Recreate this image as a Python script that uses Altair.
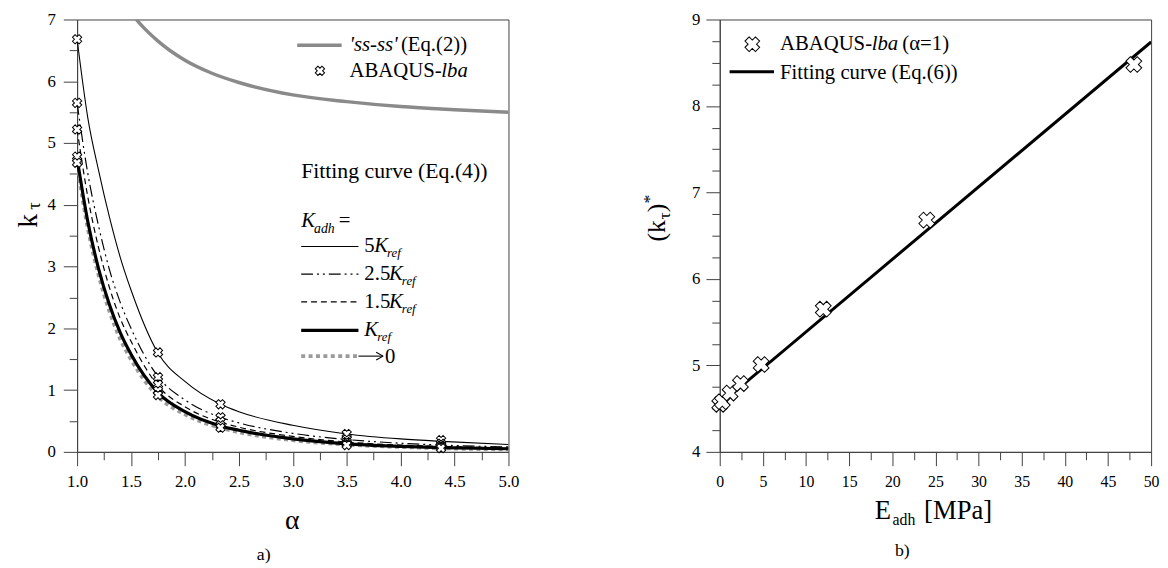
import altair as alt
import pandas as pd

FONT = "Liberation Serif, Times New Roman, serif"
AXC = "#404040"

# ---------------- panel a) ----------------
alpha_grid = [1.0, 1.1, 1.2, 1.3, 1.4, 1.5, 1.75, 2.0, 2.33, 2.5, 3.0, 3.5, 4.0, 4.38, 5.0]
k_5K   = [6.68, 5.40, 4.55, 3.80, 3.15, 2.62, 1.60, 1.14, 0.77, 0.65, 0.43, 0.29, 0.21, 0.17, 0.12]
k_25K  = [5.65, 4.50, 3.65, 2.95, 2.42, 2.00, 1.22, 0.84, 0.56, 0.47, 0.30, 0.20, 0.14, 0.11, 0.08]
k_15K  = [5.22, 4.12, 3.30, 2.66, 2.16, 1.79, 1.07, 0.73, 0.48, 0.40, 0.25, 0.16, 0.11, 0.09, 0.06]
k_1K   = [4.75, 3.72, 2.96, 2.38, 1.93, 1.58, 0.96, 0.65, 0.42, 0.35, 0.21, 0.13, 0.09, 0.07, 0.05]
k_0K   = [4.66, 3.62, 2.86, 2.28, 1.83, 1.50, 0.90, 0.61, 0.39, 0.32, 0.19, 0.12, 0.08, 0.06, 0.04]

ss_alpha = [1.55, 1.6, 1.75, 2.0, 2.25, 2.5, 3.0, 3.5, 4.0, 4.5, 5.0]
ss_k     = [7.00, 6.90, 6.65, 6.34, 6.13, 5.98, 5.78, 5.67, 5.59, 5.54, 5.50]

abq_alpha = [1.0, 1.75, 2.33, 3.5, 4.375]
abq_5K  = [6.68, 1.61, 0.77, 0.29, 0.19]
abq_25K = [5.65, 1.21, 0.56, 0.20, 0.13]
abq_15K = [5.22, 1.09, 0.49, 0.16, 0.10]
abq_1K  = [4.78, 0.99, 0.43, 0.13, 0.08]
abq_0K  = [4.68, 0.92, 0.39, 0.11, 0.06]

major_alpha = [1.0, 1.5, 2.0, 2.5, 3.0, 3.5, 4.0, 4.5, 5.0]
minor_alpha = [1.25, 1.75, 2.25, 2.75, 3.25, 3.75, 4.25, 4.75]
major_k = [0, 1, 2, 3, 4, 5, 6, 7]
minor_k = [0.5, 1.5, 2.5, 3.5, 4.5, 5.5, 6.5]

# ---------------- panel b) ----------------
E_pts     = [0.0, 0.3, 1.2, 2.4, 4.8, 12.0, 24.0, 48.0]
kstar_pts = [4.55, 4.58, 4.68, 4.79, 5.01, 5.65, 6.68, 8.48]
fit_E = [0.0, 50.0]
fit_k = [4.55, 8.74]

major_E = [0, 5, 10, 15, 20, 25, 30, 35, 40, 45, 50]
minor_E = [2.5, 7.5, 12.5, 17.5, 22.5, 27.5, 32.5, 37.5, 42.5, 47.5]
major_ks = [4, 5, 6, 7, 8, 9]
minor_ks = [4.25, 4.5, 4.75, 5.25, 5.5, 5.75, 6.25, 6.5, 6.75, 7.25, 7.5, 7.75, 8.25, 8.5, 8.75]

W1, H = 437, 438
W2 = 437


def major_axis(values, fmt, pad, orient, size=17):
    return alt.Axis(
        values=values, title=None, grid=False, orient=orient, format=fmt,
        tickSize=14, labelPadding=pad, labelFont=FONT, labelFontSize=size,
        labelColor="black", labelFlush=False, labelOverlap=False,
        domainColor=AXC, tickColor=AXC, tickWidth=1, domainWidth=1,
    )


def minor_axis(values, orient):
    return alt.Axis(
        values=values, title=None, grid=False, orient=orient, labels=False,
        domain=False, tickSize=8, tickColor=AXC, tickWidth=1,
    )


def txt(x, y, s, size=21, italic=False, align="left", angle=0, baseline="alphabetic"):
    kw = dict(text=s, font=FONT, fontSize=size, align=align, baseline=baseline, color="black")
    if italic:
        kw["fontStyle"] = "italic"
    if angle:
        kw["angle"] = angle
    return alt.Chart(alt.Data(values=[{}])).mark_text(**kw).encode(x=alt.value(x), y=alt.value(y))


def seg(x1, x2, y, color, width, dash=None, y2=None):
    kw = dict(color=color, strokeWidth=width)
    if dash:
        kw["strokeDash"] = dash
    enc = dict(x=alt.value(x1), x2=alt.value(x2), y=alt.value(y))
    if y2 is not None:
        enc["y2"] = alt.value(y2)
    return alt.Chart(alt.Data(values=[{}])).mark_rule(**kw).encode(**enc)


def marker(x, y, size):
    return alt.Chart(alt.Data(values=[{}])).mark_point(
        shape="cross", angle=45, filled=True, fill="white", stroke="black",
        strokeWidth=1, size=size, opacity=1).encode(x=alt.value(x), y=alt.value(y))


# ----- panel a -----
xs_a = alt.Scale(domain=[1, 5], nice=False, zero=False)
ys_a = alt.Scale(domain=[0, 7], nice=False)


def curve_a(xs, ys, color, width, dash=None, axx=None, axy=None):
    df = pd.DataFrame({"a": xs, "k": ys})
    kw = dict(color=color, strokeWidth=width, interpolate="monotone", clip=True)
    if dash:
        kw["strokeDash"] = dash
    return alt.Chart(df).mark_line(**kw).encode(
        x=alt.X("a:Q", scale=xs_a, axis=axx),
        y=alt.Y("k:Q", scale=ys_a, axis=axy),
    )


abq_rows = []
for ser in [abq_5K, abq_25K, abq_15K, abq_1K, abq_0K]:
    for a, k in zip(abq_alpha, ser):
        abq_rows.append({"a": a, "k": k})
abq_df = pd.DataFrame(abq_rows)

pts_a = alt.Chart(abq_df).mark_point(
    shape="cross", angle=45, filled=True, fill="white", stroke="black",
    strokeWidth=1, size=90, opacity=1).encode(
    x=alt.X("a:Q", scale=xs_a, axis=minor_axis(minor_alpha, "bottom")),
    y=alt.Y("k:Q", scale=ys_a, axis=minor_axis(minor_k, "left")))

DASHDOT = [12, 4, 2, 4, 2, 4]
DASH = [6, 4]
DOT = [4, 3.5]

left_layers = [
    curve_a(ss_alpha, ss_k, "#8a8a8a", 3.5,
            axx=major_axis(major_alpha, ".1f", 8, "bottom"),
            axy=major_axis(major_k, "d", 8, "left")),
    curve_a(alpha_grid, k_0K, "#9a9a9a", 4, DOT),
    curve_a(alpha_grid, k_1K, "black", 3.2),
    curve_a(alpha_grid, k_15K, "black", 1.2, DASH),
    curve_a(alpha_grid, k_25K, "black", 1.2, DASHDOT),
    curve_a(alpha_grid, k_5K, "black", 1.1),
    pts_a,
    # legend
    seg(223, 268, 26, "#8a8a8a", 3.5),
    txt(276, 32, "'ss-ss'", italic=True),
    txt(328, 32, "(Eq.(2))"),
    marker(246, 52, 90),
    txt(276, 58, "ABAQUS-"),
    txt(369, 58, "lba", italic=True),
    txt(227, 161, "Fitting curve (Eq.(4))", size=22),
    txt(227, 210, "K", italic=True),
    txt(240, 216, "adh", size=14, italic=True),
    txt(265, 210, "="),
    seg(227, 285, 230, "black", 1.1),
    txt(291, 236, "5"),
    txt(301, 236, "K", italic=True),
    txt(314, 241, "ref", size=13, italic=True),
    seg(227, 285, 258, "black", 1.2, DASHDOT),
    txt(291, 264, "2.5"),
    txt(316, 264, "K", italic=True),
    txt(329, 269, "ref", size=13, italic=True),
    seg(227, 285, 286, "black", 1.2, DASH),
    txt(291, 292, "1.5"),
    txt(316, 292, "K", italic=True),
    txt(329, 297, "ref", size=13, italic=True),
    seg(227, 285, 315, "black", 3.2),
    txt(291, 321, "K", italic=True),
    txt(304, 326, "ref", size=13, italic=True),
    seg(227, 284, 341, "#9a9a9a", 4, DOT),
    seg(285, 310, 341, "black", 1.1),
    seg(303, 310, 337, "black", 1.1, y2=341),
    seg(303, 310, 345, "black", 1.1, y2=341),
    txt(312, 348, "0"),
    # axis titles
    txt(-41, 204, "k", size=28, angle=270, align="center"),
    txt(-38, 189, "\u03c4", size=19, angle=270, align="center"),
    txt(218, 516, "\u03b1", size=28, align="center"),
    txt(189, 548, "a)", size=18, align="center"),
]
left = alt.layer(*left_layers).resolve_axis(x="independent", y="independent").properties(width=W1, height=H)

# ----- panel b -----
xs_b = alt.Scale(domain=[0, 50], nice=False, zero=False)
ys_b = alt.Scale(domain=[4, 9], nice=False, zero=False)

fit_line = alt.Chart(pd.DataFrame({"E": fit_E, "k": fit_k})).mark_line(
    color="black", strokeWidth=3, clip=True).encode(
    x=alt.X("E:Q", scale=xs_b, axis=major_axis(major_E, "d", 8, "bottom", size=16)),
    y=alt.Y("k:Q", scale=ys_b, axis=major_axis(major_ks, "d", 6, "left")))

pts_b = alt.Chart(pd.DataFrame({"E": E_pts, "k": kstar_pts})).mark_point(
    shape="cross", angle=45, filled=True, fill="white", stroke="black",
    strokeWidth=1, size=260, opacity=1).encode(
    x=alt.X("E:Q", scale=xs_b, axis=minor_axis(minor_E, "bottom")),
    y=alt.Y("k:Q", scale=ys_b, axis=minor_axis(minor_ks, "left")))

right_layers = [
    fit_line,
    pts_b,
    marker(33, 25, 225),
    txt(61, 31, "ABAQUS-"),
    txt(154, 31, "lba", italic=True),
    txt(185, 31, "(\u03b1=1)"),
    seg(10, 55, 53, "black", 3),
    txt(61, 60, "Fitting curve (Eq.(6))"),
    txt(157, 506, "E", size=27),
    txt(175, 512, "adh", size=16),
    txt(207, 506, "[MPa]", size=27),
    txt(185, 543, "b)", size=18, align="center"),
    txt(-55, 214, "(k", size=26, angle=270, align="center"),
    txt(-50, 199, "\u03c4", size=18, angle=270, align="center"),
    txt(-55, 191, ")", size=26, angle=270, align="center"),
    txt(-66, 182, "*", size=18, angle=270, align="center"),
]
right = alt.layer(*right_layers).resolve_axis(x="independent", y="independent").properties(width=W2, height=H)

chart = alt.hconcat(left, right, spacing=121).properties(
    padding={"left": 6, "top": -2, "right": 0, "bottom": 0},
    background="white",
).configure_view(stroke=AXC, strokeWidth=1)

chart.save("out.html", embed_options={"renderer": "svg", "actions": False})
